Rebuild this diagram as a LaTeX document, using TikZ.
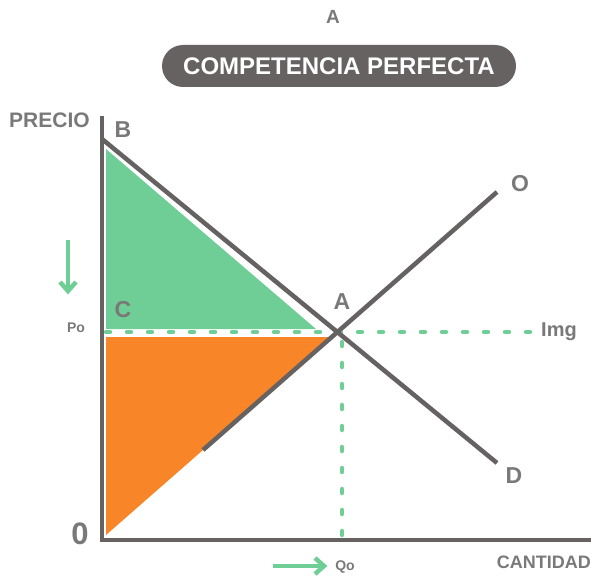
\documentclass[tikz,border=0pt]{standalone}
\usepackage{fontspec}
\setmainfont{Liberation Sans}
\usetikzlibrary{arrows.meta}
\definecolor{lgray}{RGB}{122,120,120}
\definecolor{dgray}{RGB}{102,98,98}
\definecolor{mgreen}{RGB}{111,206,150}
\definecolor{morange}{RGB}{248,134,40}
\tikzset{
  lbl/.style={text=lgray,font=\bfseries\fontsize{23}{23}\selectfont,inner sep=0pt},
  small/.style={text=lgray,font=\bfseries\fontsize{14}{14}\selectfont,inner sep=0pt},
  curve/.style={draw=dgray,line width=4.5pt},
  gdash/.style={draw=mgreen,line width=4.5pt,line cap=round,dash pattern=on 4pt off 17pt},
  garrow/.style={draw=mgreen,line width=4.5pt}
}
\begin{document}
\begin{tikzpicture}[x=1pt,y=-1pt]
\useasboundingbox (0,0) rectangle (595,578);
% title
\node[lbl,font=\bfseries\fontsize{19}{19}\selectfont] (ta) at (333,17) {A};
\node[fill=dgray,rounded corners=21pt,minimum width=354pt,minimum height=42pt,text=white,font=\bfseries\fontsize{24}{24}\selectfont,inner sep=0pt] (title) at (339,66) {COMPETENCIA PERFECTA};
% coordinates
\coordinate (orig) at (102,540);
\coordinate (ytop) at (102,118);
\coordinate (xend) at (589,540);
\coordinate (Bpt) at (102,139);
\coordinate (Dpt) at (497,463);
\coordinate (Olow) at (203,450);
\coordinate (Opt) at (497,192);
\coordinate (Apt) at (341,332);
% areas
\fill[mgreen] (106,149) -- (106,329) -- (316,329) -- cycle;
\fill[morange] (106,337) -- (106,535) -- (332,337) -- cycle;
% dashed
\draw[gdash] (106,332) -- (540,332);
\draw[gdash] (342,342) -- (342,540);
% curves
\draw[white,line width=9pt] (Bpt) -- (Apt);
\draw[curve] (Bpt) -- (Dpt);
\draw[curve] (Olow) -- (Opt);
% axes
\draw[curve,line cap=rect] (ytop) -- (102,540) -- (xend);
% labels
\node[lbl,font=\bfseries\fontsize{21}{21}\selectfont,anchor=west] (precio) at (9,120) {PRECIO};
\node[lbl] (lB) at (123,130) {B};
\node[lbl] (lC) at (123,310) {C};
\node[lbl] (lA) at (342,302) {A};
\node[lbl] (lO) at (520,184) {O};
\node[lbl] (lD) at (514,476) {D};
\node[lbl,font=\bfseries\fontsize{20}{20}\selectfont,anchor=west] (img) at (541,332) {Img};
\node[small] (po) at (76,328) {Po};
\node[small] (qo) at (345,567) {Qo};
\node[lbl,font=\bfseries\fontsize{31}{31}\selectfont] (zero) at (80,534) {0};
\node[lbl,font=\bfseries\fontsize{18}{18}\selectfont,anchor=east] (cant) at (591,562) {CANTIDAD};
% arrows
\draw[garrow] (68,240) -- (68,290);
\draw[garrow,miter limit=10] (60,282) -- (68,291) -- (76,282);
\draw[garrow] (273,566) -- (322,566);
\draw[garrow,miter limit=10] (315,558) -- (324,566) -- (315,574);
\end{tikzpicture}
\end{document}
